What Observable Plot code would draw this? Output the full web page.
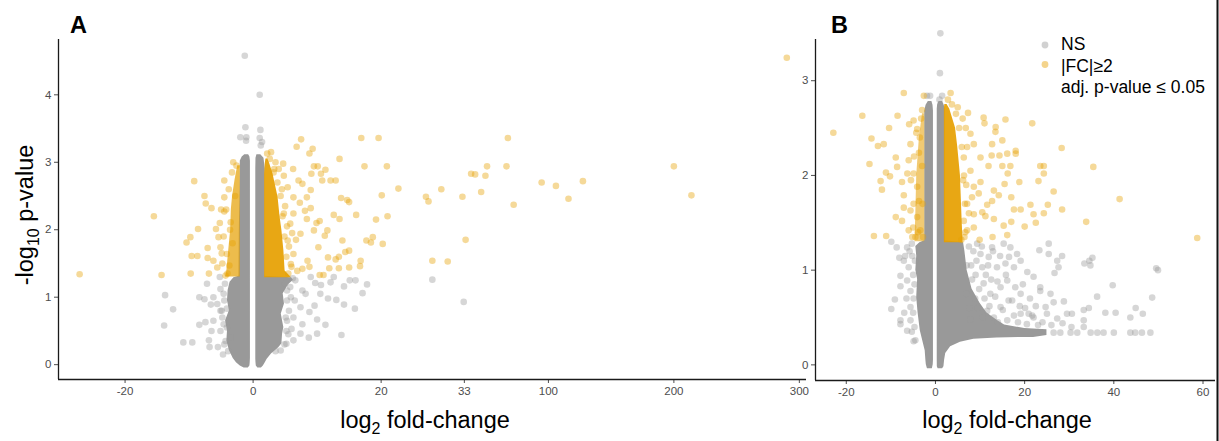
<!DOCTYPE html>
<html>
<head>
<meta charset="utf-8">
<script src="https://cdn.jsdelivr.net/npm/d3@7"></script>
<script src="https://cdn.jsdelivr.net/npm/@observablehq/plot@0.6"></script>
<style>
  html, body { margin: 0; padding: 0; background: #fff; }
  #wrap { position: relative; width: 1219px; height: 441px; overflow: hidden; font-family: "Liberation Sans", Arial, sans-serif; }
  #wrap > .panel { position: absolute; top: 0; }
  #overlay { position: absolute; left: 0; top: 0; pointer-events: none; }
  #pa svg text, #pb svg text { font-size: 11.5px !important; font-family: "Liberation Sans", Arial, sans-serif !important; fill: #4d4d4d; }
</style>
</head>
<body>
<div id="wrap">
  <div class="panel" id="pa" style="left:0px"></div>
  <div class="panel" id="pb" style="left:790px"></div>
  <svg id="overlay" width="1219" height="441" font-family="Liberation Sans, Arial, sans-serif">
    <text x="70" y="33" font-size="23.5" font-weight="bold" fill="#000">A</text>
    <text x="831" y="33" font-size="23.5" font-weight="bold" fill="#000">B</text>
    <text transform="translate(33,215) rotate(-90)" text-anchor="middle" font-size="23.5" fill="#000">-log<tspan font-size="16" dy="6">10</tspan><tspan dy="-6"> p-value</tspan></text>
    <text x="425" y="428" text-anchor="middle" font-size="23.5" fill="#000">log<tspan font-size="16" dy="6">2</tspan><tspan dy="-6"> fold-change</tspan></text>
    <text x="1007" y="428" text-anchor="middle" font-size="23.5" fill="#000">log<tspan font-size="16" dy="6">2</tspan><tspan dy="-6"> fold-change</tspan></text>
    <circle cx="1045" cy="45" r="3.4" fill="#999999" fill-opacity="0.45"></circle>
    <circle cx="1045" cy="64.5" r="3.4" fill="#E69F00" fill-opacity="0.45"></circle>
    <text x="1061" y="50" font-size="17.5" fill="#000">NS</text>
    <text x="1061" y="71.5" font-size="17.5" fill="#000">|FC|≥2</text>
    <text x="1061" y="93" font-size="17.5" fill="#000">adj. p-value ≤ 0.05</text>
    <line x1="1217.5" y1="0" x2="1217.5" y2="441" stroke="#111" stroke-width="2"></line>
  </svg>
</div>
<script>
// ---------- tick values ----------
const aTicksX = [-20, 0, 20, 33, 100, 200, 300];
const aTicksY = [0, 1, 2, 3, 4];
const bTicksX = [-20, 0, 20, 40, 60];
const bTicksY = [0, 1, 2, 3];

// ---------- Panel A: dense cores [y, x1, x2] ----------
const aGrayLeft = [
  [-0.05, -1.4, -0.75], [-0.02, -2.0, -0.5], [0.03, -2.6, -0.45], [0.09, -3.1, -0.42],
  [0.21, -3.7, -0.42], [0.35, -4.1, -0.42], [0.5, -4.0, -0.42], [0.65, -4.3, -0.42],
  [0.8, -3.7, -0.42], [0.95, -4.0, -0.42], [1.1, -3.9, -0.42], [1.22, -3.6, -0.42],
  [1.29, -3.0, -0.42], [1.31, -2.2, -0.42], [2.0, -2.15, -0.42], [2.6, -2.05, -0.42],
  [3.02, -2.0, -0.42], [3.08, -1.7, -0.5], [3.11, -1.3, -0.7]
];
const aGrayRight = [
  [-0.05, 0.75, 1.3], [-0.02, 0.5, 1.6], [0.03, 0.45, 1.9], [0.08, 0.42, 2.2],
  [0.16, 0.42, 2.9], [0.25, 0.42, 4.0], [0.31, 0.42, 4.5], [0.45, 0.42, 4.6],
  [0.55, 0.42, 4.8], [0.75, 0.42, 4.4], [0.9, 0.42, 4.9], [1.05, 0.42, 4.7],
  [1.18, 0.42, 5.5], [1.25, 0.42, 6.3], [1.29, 0.42, 6.0], [1.31, 0.42, 1.9],
  [2.9, 0.42, 1.9], [3.06, 0.45, 1.7], [3.11, 0.6, 1.2]
];
const aSigRight = [
  [1.29, 1.8, 6.0], [1.39, 1.8, 5.0], [1.7, 1.8, 4.8], [1.99, 1.8, 4.5],
  [2.2, 1.8, 4.2], [2.48, 1.8, 3.9], [2.83, 1.8, 3.1], [2.98, 1.9, 2.6], [3.05, 2.0, 2.3]
];
const aSigLeft = [
  [1.3, -4.3, -2.0], [1.39, -4.1, -2.0], [1.7, -3.8, -2.0], [2.0, -3.5, -2.0],
  [2.3, -3.4, -2.0], [2.5, -3.2, -2.0], [2.75, -2.8, -2.0], [2.95, -2.4, -2.0]
];

// ---------- Panel A: individual points [x, y] ----------
const aSigPoints = [
  [-27.1, 1.34], [-15.5, 2.2], [-14.3, 1.33], [-9.2, 2.72], [-8.6, 2.01], [-9.8, 1.89],
  [-10.4, 1.81], [-9.6, 1.61], [-8.7, 1.61], [-9.75, 1.35], [-7.6, 2.5], [-7.4, 2.39],
  [-6.5, 2.32], [-7.1, 1.73], [-7.1, 1.58], [-6.2, 1.54], [-5.6, 1.44], [-6.9, 1.35],
  [-5.8, 2.01], [-5.2, 2.1], [-4.5, 2.48], [-4.5, 2.73], [-3.1, 3.0], [-4.3, 1.32],
  [-5.1, 1.74], [-5.4, 1.89], [-4.5, 2.27], [-3.5, 2.11], [-4.1, 1.64], [-3.7, 1.47],
  [-4.8, 1.5], [-4.6, 1.9], [-4.2, 2.3], [-3.8, 2.6], [-3.3, 2.85], [-2.6, 2.95],
  [-4.0, 1.35], [-3.6, 2.0], [-2.8, 2.5], [-5.0, 2.3], [-3.2, 1.8], [-4.9, 1.65],
  [2.2, 3.13], [2.8, 3.15], [6.8, 3.23], [7.5, 3.34], [9.3, 3.2], [8.8, 3.13],
  [4.7, 2.98], [6.25, 2.9], [9.5, 2.94], [10.1, 2.94], [11.3, 2.89], [9.1, 2.83],
  [10.6, 2.83], [10.8, 2.73], [12.1, 2.73], [12.9, 2.73], [13.5, 3.05], [16.9, 3.36],
  [19.6, 3.36], [17.4, 2.94], [20.9, 2.94], [22.7, 2.61], [20.1, 2.51], [13.75, 2.47],
  [15.0, 2.41], [14.7, 2.44], [12.6, 2.22], [13.5, 2.16], [16.1, 2.22], [19.2, 2.15],
  [21.0, 2.2], [18.7, 1.89], [17.7, 1.84], [18.4, 1.81], [20.25, 1.79], [13.95, 1.84],
  [15.0, 1.69], [14.4, 1.67], [13.4, 1.6], [12.9, 1.56], [11.7, 1.59], [16.8, 1.54],
  [16.7, 1.46], [15.0, 1.44], [13.4, 1.43], [11.9, 1.43], [10.4, 1.33], [11.0, 1.33],
  [10.2, 1.74], [11.2, 1.91], [11.6, 1.99], [9.9, 2.1], [10.4, 2.13], [9.5, 1.99],
  [8.4, 2.16], [9.0, 2.32], [8.1, 2.28], [7.3, 2.4], [8.4, 2.48], [9.0, 2.59],
  [6.3, 2.48], [5.4, 2.63], [7.4, 1.94], [6.7, 1.85], [8.5, 1.54], [7.7, 1.42],
  [8.8, 1.45], [6.3, 1.64], [5.4, 1.84], [5.8, 2.09], [4.8, 2.24], [6.3, 2.24],
  [7.7, 2.68], [7.1, 2.73], [4.8, 2.8], [3.2, 2.85], [6.9, 1.39], [5.9, 1.49],
  [5.5, 1.35], [5.2, 1.6], [4.9, 1.9], [4.6, 2.2], [4.3, 2.5], [3.8, 2.7],
  [3.3, 2.9], [2.6, 3.05], [5.6, 1.75], [5.0, 2.35], [4.0, 2.9], [6.0, 1.45],
  [6.1, 1.95], [5.3, 2.05], [4.5, 2.6], [3.5, 3.0],
  [27.0, 2.49], [27.4, 2.42], [29.4, 2.6], [32.7, 2.49], [28.0, 1.54], [30.4, 1.53],
  [34.0, 1.85], [38.4, 2.83], [41.6, 2.82], [46.4, 2.56], [49.8, 2.8], [51.1, 2.94],
  [66.6, 2.94], [67.7, 3.36], [72.3, 2.37], [94.6, 2.7], [106, 2.65], [116, 2.46],
  [127.5, 2.72], [200, 2.94], [214, 2.51], [290, 4.55]
];
const aNsPoints = [
  [-1.3, 4.58], [1.03, 4.0], [-1.2, 3.52], [1.14, 3.48], [-2.0, 3.37], [-1.05, 3.37],
  [1.03, 3.36], [1.4, 3.3], [-1.1, 3.32], [1.2, 3.25],
  [-13.75, 1.03], [-12.5, 0.82], [-13.9, 0.58], [-10.9, 0.33], [-9.5, 0.33], [-8.4, 1.0],
  [-7.6, 0.97], [-8.4, 0.59], [-7.45, 0.63], [-6.8, 0.26], [-5.5, 0.26], [-6.9, 0.36],
  [-5.2, 1.3], [-6.2, 1.0], [-6.6, 0.89], [-5.1, 0.8], [-6.2, 0.65], [-5.1, 1.12],
  [-4.1, 0.83], [-7.2, 1.2], [-6.5, 0.5], [-5.1, 0.5], [-4.1, 0.55], [-3.5, 0.4],
  [-4.6, 1.05], [-4.8, 0.7], [-4.5, 0.3], [-5.6, 0.9], [-4.7, 0.15],
  [-4.4, 1.2], [-4.5, 0.95], [-4.6, 0.6], [-4.3, 0.35], [-4.9, 0.8], [-3.9, 0.2],
  [17.8, 1.19], [17.1, 1.06], [16.0, 1.25], [15.1, 1.25], [14.2, 1.16], [14.2, 0.89],
  [15.9, 0.83], [13.8, 0.44], [12.6, 1.3], [12.1, 1.22], [10.6, 1.18], [9.7, 1.21],
  [10.5, 1.05], [11.7, 0.98], [13.0, 0.96], [11.3, 0.59], [10.0, 0.67], [9.6, 0.875],
  [8.8, 0.78], [8.2, 1.05], [7.7, 1.1], [9.0, 1.3], [6.6, 1.25], [5.8, 1.15],
  [7.4, 0.85], [6.3, 0.7], [7.7, 0.6], [8.7, 0.4], [7.4, 0.46], [6.3, 0.36],
  [10.0, 0.46], [5.2, 0.31], [4.3, 0.21], [5.3, 0.95], [5.3, 0.65], [6.0, 0.53],
  [5.6, 0.8], [5.9, 1.0], [6.5, 0.95], [5.5, 0.45], [28.0, 1.26], [32.9, 0.93],
  [5.0, 1.2], [5.3, 1.1], [5.2, 0.5], [4.9, 0.3], [3.5, 0.2], [6.2, 1.28], [5.1, 0.7]
];

// ---------- Panel B: dense cores [y, x1, x2] ----------
const bGrayLeft = [
  [-0.04, -1.8, -0.7], [0.0, -2.05, -0.5], [0.05, -2.15, -0.45], [0.15, -2.3, -0.45],
  [0.36, -3.4, -0.45], [0.55, -3.9, -0.45], [0.71, -4.2, -0.45], [0.9, -4.0, -0.45],
  [1.0, -4.4, -0.45], [1.15, -4.2, -0.45], [1.25, -4.4, -0.45], [1.29, -3.5, -0.45],
  [1.31, -2.4, -0.45], [2.68, -2.4, -0.45], [2.74, -2.1, -0.55], [2.78, -1.6, -0.8]
];
const bGrayRight = [
  [-0.04, 0.6, 1.6], [-0.02, 0.42, 1.9], [0.05, 0.4, 2.05], [0.12, 0.4, 2.3],
  [0.19, 0.4, 3.4], [0.24, 0.4, 5.6], [0.27, 0.4, 8.6], [0.285, 0.4, 13.8],
  [0.29, 0.4, 22], [0.31, 0.4, 25], [0.37, 0.4, 25], [0.385, 0.4, 20],
  [0.42, 0.4, 15.5], [0.47, 0.4, 13.8], [0.55, 0.4, 11.5], [0.65, 0.4, 10],
  [0.8, 0.4, 8.2], [1.0, 0.4, 7.1], [1.2, 0.4, 6.6], [1.29, 0.4, 6.3],
  [1.31, 0.4, 2.2], [2.7, 0.4, 2.2], [2.75, 0.5, 1.9], [2.78, 0.8, 1.6]
];
const bSigRight = [
  [1.29, 2.0, 6.2], [1.5, 2.0, 6.0], [2.0, 2.0, 5.6], [2.3, 2.0, 5.0],
  [2.5, 2.0, 4.5], [2.7, 2.0, 3.2], [2.75, 2.1, 2.6]
];
const bSigLeft = [
  [1.3, -4.6, -2.4], [1.6, -4.4, -2.4], [2.0, -4.2, -2.4], [2.4, -3.6, -2.4], [2.65, -2.9, -2.4]
];

// ---------- Panel B: individual points [x, y] ----------
const bSigPoints = [
  [-22.9, 2.45], [-16.4, 2.63], [-14.35, 2.39], [-14.8, 2.12], [-12.9, 2.31], [-11.6, 2.33],
  [-10.4, 2.5], [-8.5, 2.63], [-7.1, 2.87], [-13.8, 1.36], [-11.05, 1.36], [-12.3, 1.94],
  [-12.0, 1.85], [-11.1, 2.03], [-10.2, 1.99], [-8.9, 2.19], [-8.6, 2.09], [-8.9, 1.56],
  [-7.5, 1.93], [-7.1, 1.79], [-7.1, 1.66], [-7.5, 1.52], [-6.0, 2.16], [-5.6, 2.33],
  [-5.9, 2.54], [-4.9, 2.58], [-4.1, 2.49], [-5.6, 1.63], [-6.0, 1.42], [-4.5, 1.35],
  [-4.1, 1.88], [-4.9, 2.02], [-3.7, 2.24], [-3.5, 2.4], [-2.6, 2.84], [-3.0, 2.69],
  [-3.7, 1.73], [-4.1, 1.56], [-3.4, 1.42], [-5.0, 1.45], [-6.3, 2.02],
  [-5.2, 1.35], [-4.9, 1.7], [-4.8, 2.2], [-4.3, 2.45], [-3.2, 2.6], [-5.5, 1.95],
  [-3.9, 1.4], [-2.8, 1.35], [-3.0, 2.1], [-2.9, 1.7],
  [3.4, 2.87], [7.3, 2.66], [10.8, 2.61], [11.0, 2.55], [15.7, 2.59], [21.7, 2.55],
  [13.5, 2.51], [13.45, 2.46], [15.0, 2.37], [12.7, 2.33], [28.3, 2.29], [12.6, 2.21],
  [14.35, 2.21], [16.1, 2.23], [18.0, 2.26], [18.0, 2.23], [15.0, 2.1], [16.8, 2.1],
  [23.5, 2.1], [24.3, 2.1], [24.3, 2.02], [35.4, 2.09], [16.2, 2.02], [11.9, 2.1],
  [10.1, 2.19], [18.8, 1.93], [15.5, 1.91], [23.1, 1.94], [13.1, 1.84], [14.2, 1.79],
  [17.0, 1.77], [26.5, 1.83], [41.3, 1.75], [21.3, 1.69], [22.0, 1.59], [25.2, 1.69],
  [24.3, 1.6], [28.4, 1.64], [19.1, 1.64], [17.6, 1.64], [17.0, 1.51], [20.0, 1.46],
  [22.5, 1.5], [33.8, 1.51], [15.3, 1.47], [13.1, 1.54], [11.2, 1.57], [10.5, 1.61],
  [16.1, 1.37], [12.8, 1.35], [9.9, 1.32], [58.7, 1.34], [12.7, 1.73], [11.6, 1.69],
  [10.1, 1.93], [8.6, 1.88], [8.2, 1.77], [9.7, 1.81], [8.6, 1.59], [7.1, 1.42],
  [8.6, 1.45], [6.35, 1.52], [7.85, 2.44], [8.6, 2.33], [7.1, 2.3], [6.35, 2.19],
  [7.85, 2.05], [6.2, 1.95], [7.1, 1.7], [6.8, 2.5], [6.5, 1.35], [7.5, 1.6],
  [6.6, 1.7], [6.4, 2.0], [5.9, 2.3], [5.3, 2.5], [4.6, 2.65], [3.7, 2.75],
  [6.7, 1.4], [6.1, 2.6], [5.0, 2.72], [2.8, 2.8], [6.9, 1.9], [5.8, 1.32]
];
const bNsPoints = [
  [1.1, 3.5], [1.0, 3.08], [-1.9, 2.84], [1.5, 2.84], [-1.2, 2.84], [0.9, 2.8],
  [-9.9, 1.3], [-8.7, 1.24], [-8.1, 1.13], [-7.1, 1.1], [-7.85, 0.94], [-6.35, 0.89],
  [-7.85, 0.83], [-9.1, 0.69], [-9.9, 0.59], [-7.85, 0.47], [-7.85, 0.43], [-6.35, 0.36],
  [-4.5, 0.26], [-5.6, 0.47], [-5.6, 0.61], [-6.35, 1.24], [-6.0, 1.03], [-5.6, 0.78],
  [-5.2, 1.15], [-5.0, 0.95], [-4.9, 0.7], [-4.7, 0.4], [-5.3, 1.28],
  [-5.8, 1.2], [-6.5, 0.7], [-7.0, 0.55], [-5.3, 0.35], [-4.9, 0.25], [-6.8, 1.15],
  [-5.0, 0.55], [-4.7, 0.85], [-4.6, 1.1],
  [25.4, 1.28], [25.4, 1.17], [23.3, 1.21], [28.4, 1.15], [27.3, 1.1], [27.6, 1.03],
  [26.7, 0.97], [33.4, 1.07], [34.75, 1.05], [35.2, 1.13], [34.5, 1.1], [49.5, 1.02],
  [49.9, 1.0], [39.75, 0.84], [36.25, 0.72], [48.6, 0.71], [44.9, 0.6], [46.5, 0.54],
  [43.7, 0.5], [38.1, 0.55], [40.4, 0.55], [34.4, 0.6], [33.25, 0.58], [29.5, 0.54],
  [30.6, 0.54], [23.5, 0.82], [23.5, 0.78], [25.8, 0.75], [28.8, 0.67], [26.5, 0.66],
  [24.7, 0.61], [25.0, 0.54], [21.7, 0.52], [20.9, 0.54], [19.1, 0.54], [22.0, 0.93],
  [20.6, 0.98], [19.1, 1.1], [18.3, 1.17], [16.8, 1.24], [15.3, 1.28], [12.7, 1.24],
  [11.95, 1.14], [13.8, 1.03], [15.7, 1.07], [17.6, 1.03], [16.1, 0.89], [14.6, 0.82],
  [17.9, 0.82], [19.1, 0.75], [16.4, 0.68], [14.6, 0.61], [12.3, 0.75], [10.8, 0.86],
  [10.5, 1.03], [10.1, 1.17], [9.35, 1.28], [11.6, 0.57], [13.1, 0.5], [17.6, 0.52],
  [16.1, 0.47], [27.3, 0.49], [33.25, 0.47], [22.0, 0.5], [33.25, 0.4],
  [8.5, 1.2], [9.0, 0.95], [8.0, 1.05], [11.0, 0.7], [12.5, 0.9], [9.5, 0.6],
  [14.0, 0.45], [18.5, 0.45], [20.5, 0.43], [23.0, 0.42],
  [7.5, 1.25], [8.2, 0.9], [9.8, 0.8], [11.3, 0.95], [12.1, 0.62], [13.4, 0.72],
  [15.1, 0.58], [10.6, 0.5], [8.9, 0.7], [7.6, 0.6], [11.8, 1.05], [13.9, 0.88],
  [15.8, 0.95], [17.2, 0.68], [18.9, 0.62], [14.5, 1.15], [16.5, 1.14], [9.2, 1.1],
  [10.4, 1.25], [12.9, 1.2], [19.6, 0.85], [21.2, 0.7], [20.1, 0.6], [24.0, 0.45],
  [22.5, 0.62], [26.0, 0.42], [28.5, 0.44], [30.5, 0.4], [7.8, 0.48], [6.9, 0.75], [7.0, 1.05],
  [26.5, 0.34], [28.0, 0.34], [30.3, 0.34], [31.8, 0.34], [34.8, 0.34], [36.3, 0.34],
  [37.7, 0.34], [40.0, 0.34], [43.7, 0.34], [44.8, 0.34], [46.3, 0.34], [48.2, 0.34]
];

// ---------- helpers ----------
const fwdA = x => (x <= 33 ? x : 33 + (x - 33) * 0.196);
const aTickPos = aTicksX.map(fwdA);
const aTickLabel = new Map(aTicksX.map(t => [fwdA(t), String(t)]));

const GRAY = "#999999", ORANGE = "#E69F00", AXIS = "#1a1a1a";
const baseStyle = {
  background: "transparent",
  fontFamily: "Liberation Sans, Arial, sans-serif",
  fontSize: "11.5px",
  color: "#4d4d4d",
  overflow: "visible"
};

function core(data, fill, opacity, fx) {
  return Plot.areaX(data, {
    y: d => d[0], x1: d => fx(d[1]), x2: d => fx(d[2]),
    fill, fillOpacity: opacity, curve: "linear"
  });
}
function pts(data, fill, fx) {
  return Plot.dot(data, {x: d => fx(d[0]), y: d => d[1], r: 3.3, fill, fillOpacity: 0.4, stroke: "none"});
}

const aXDomain = [-30.4, 86.45], aYDomain = [-0.22, 4.82];
const plotA = Plot.plot({
  width: 812, height: 441,
  marginLeft: 58, marginRight: 6, marginTop: 39, marginBottom: 62,
  style: baseStyle,
  x: {domain: aXDomain, ticks: aTickPos, tickFormat: v => aTickLabel.get(v) ?? "", tickSize: 4, tickPadding: 3, label: null},
  y: {domain: aYDomain, ticks: aTicksY, tickFormat: d => String(d), tickSize: 4, tickPadding: 3, label: null},
  marks: [
    core(aGrayLeft, GRAY, 1, fwdA),
    core(aGrayRight, GRAY, 1, fwdA),
    core(aSigLeft, ORANGE, 0.7, fwdA),
    core(aSigRight, ORANGE, 0.92, fwdA),
    pts(aNsPoints, GRAY, fwdA),
    pts(aSigPoints, ORANGE, fwdA),
    Plot.ruleX([aXDomain[0]], {stroke: AXIS, strokeWidth: 1.3}),
    Plot.ruleY([aYDomain[0]], {stroke: AXIS, strokeWidth: 1.3})
  ]
});
document.getElementById("pa").appendChild(plotA);

const idB = x => x;
const bXDomain = [-26.9, 62.8], bYDomain = [-0.165, 3.435];
const plotB = Plot.plot({
  width: 429, height: 441,
  marginLeft: 25, marginRight: 4, marginTop: 39, marginBottom: 61,
  style: baseStyle,
  x: {domain: bXDomain, ticks: bTicksX, tickFormat: d => String(d), tickSize: 4, tickPadding: 3, label: null},
  y: {domain: bYDomain, ticks: bTicksY, tickFormat: d => String(d), tickSize: 4, tickPadding: 3, label: null},
  marks: [
    core(bGrayLeft, GRAY, 1, idB),
    core(bGrayRight, GRAY, 1, idB),
    core(bSigLeft, ORANGE, 0.55, idB),
    core(bSigRight, ORANGE, 0.92, idB),
    pts(bNsPoints, GRAY, idB),
    pts(bSigPoints, ORANGE, idB),
    Plot.ruleX([bXDomain[0]], {stroke: AXIS, strokeWidth: 1.3}),
    Plot.ruleY([bYDomain[0]], {stroke: AXIS, strokeWidth: 1.3})
  ]
});
document.getElementById("pb").appendChild(plotB);
</script>
</body>
</html>
